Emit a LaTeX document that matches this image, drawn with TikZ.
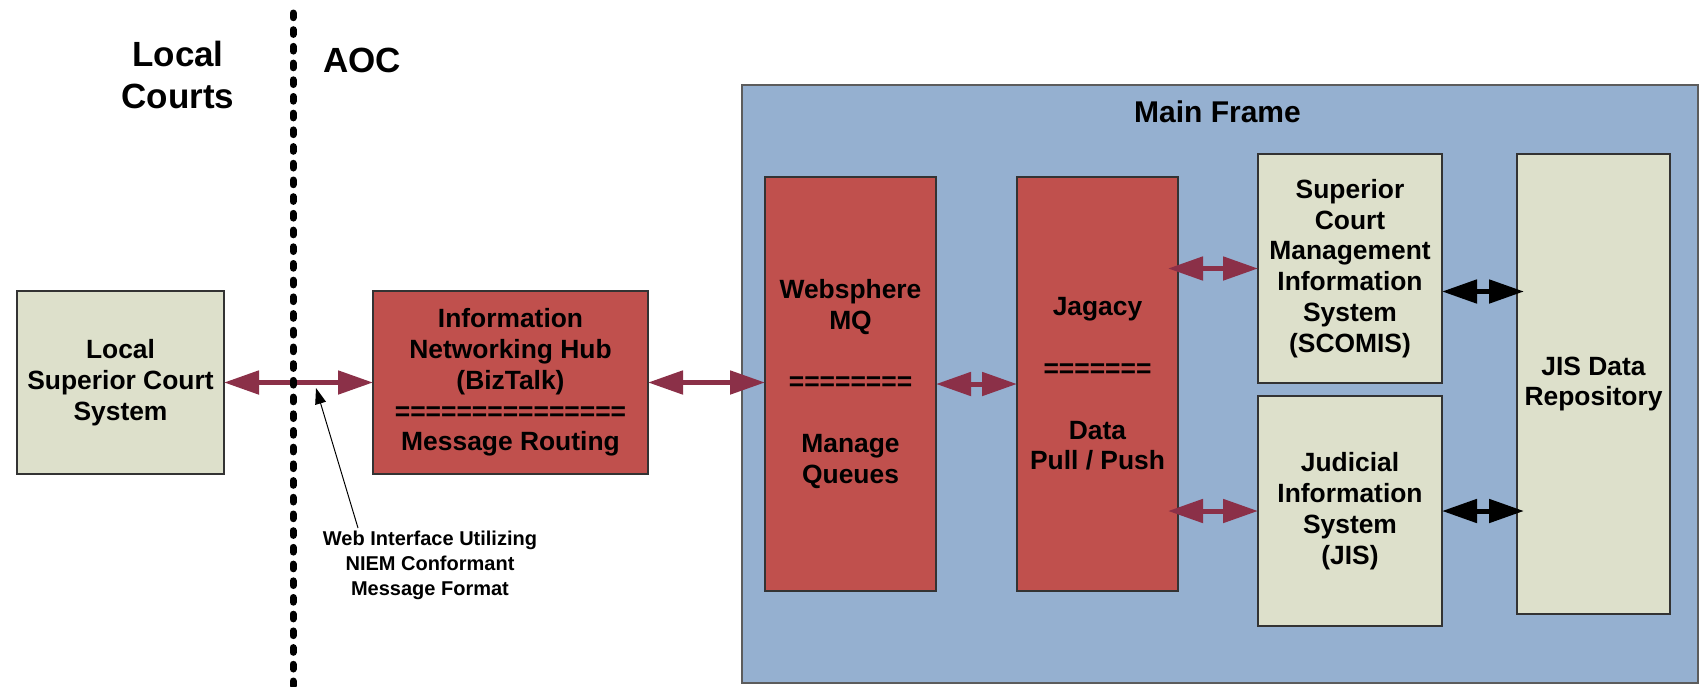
\documentclass[tikz,border=0pt]{standalone}
\usepackage{fontspec}
\setmainfont{Liberation Sans}
\usetikzlibrary{arrows.meta}
\definecolor{boxred}{HTML}{C0504D}
\definecolor{boxgreen}{HTML}{DDE0CB}
\definecolor{frameblue}{HTML}{95B0D0}
\definecolor{arrowred}{HTML}{8B3048}
\definecolor{edgegray}{HTML}{333333}
\begin{document}
\begin{tikzpicture}[x=0.5pt,y=-0.5pt,
  basebox/.style={draw=edgegray, line width=0.7pt, outer sep=0pt, inner sep=0pt, align=center,
    font=\fontsize{13.2}{15.4}\selectfont\bfseries},
  redbox/.style={basebox, fill=boxred},
  greenbox/.style={basebox, fill=boxgreen},
  framebox/.style={draw=edgegray!80, line width=0.7pt, fill=frameblue, outer sep=0pt, inner sep=0pt},
  fatarrow/.style={draw=arrowred, line width=2.5pt,
    {Triangle[length=17.5pt,width=11.5pt]}-{Triangle[length=17.5pt,width=11.5pt]}},
  blackarrow/.style={fatarrow, draw=black},
  hdr/.style={align=center, font=\fontsize{17.5}{21}\selectfont\bfseries, inner sep=0pt},
  titletext/.style={font=\fontsize{15}{18}\selectfont\bfseries, inner sep=0pt},
  notetext/.style={align=center, font=\fontsize{10}{12.5}\selectfont\bfseries, inner sep=0pt},
  notearrow/.style={draw=black, line width=0.5pt, -{Triangle[length=8pt,width=5.5pt]}},
  dotline/.style={draw=black, line width=3.5pt, line cap=round, dash pattern=on 2.35pt off 6pt}
]
\useasboundingbox (0,0) rectangle (1700,686);

% main frame
\node[framebox, minimum width=478pt, minimum height=299pt] (main) at (1220,384) {};
\node[titletext] (maintitle) at (1217.5,112) {Main Frame};

% headers
\node[hdr] (lc) at (178,75) {Local\\Courts};
\node[hdr] (aoc) at (362,60) {AOC};

% boxes
\node[greenbox, minimum width=103.5pt, minimum height=91.5pt] (local) at (120.5,382.5)
  {Local\\Superior Court\\System};
\node[redbox, minimum width=137.5pt, minimum height=91.5pt] (hub) at (510.5,382.5)
  {Information\\Networking Hub\\(BizTalk)\\===============\\Message Routing};
\node[redbox, minimum width=85.5pt, minimum height=207pt] (ws) at (850.5,384)
  {Websphere\\MQ\\\mbox{}\\========\\\mbox{}\\Manage\\Queues};
\node[redbox, minimum width=80.5pt, minimum height=207pt] (jag) at (1097.5,384)
  {Jagacy\\\mbox{}\\=======\\\mbox{}\\Data\\Pull / Push};
\node[greenbox, minimum width=92pt, minimum height=114.5pt] (scomis) at (1350,268.5)
  {Superior\\Court\\Management\\Information\\System\\(SCOMIS)};
\node[greenbox, minimum width=92pt, minimum height=115pt] (jis) at (1350,511)
  {Judicial\\Information\\System\\(JIS)};
\node[greenbox, minimum width=76.5pt, minimum height=230pt] (repo) at (1593.5,384)
  {JIS Data\\Repository};

% connectors
\draw[fatarrow] (local.east) -- (hub.west);
\draw[fatarrow] (hub.east) -- (hub.east -| ws.west);
\draw[fatarrow] (ws.east) -- (jag.west);
\draw[fatarrow] ([xshift=-5pt]jag.east |- scomis.west) -- (scomis.west);
\draw[fatarrow] ([xshift=-5pt]jag.east |- jis.west) -- (jis.west);
\coordinate (s1) at ([yshift=-11.5pt]scomis.east);
\draw[blackarrow] (s1) -- ([xshift=3.5pt]repo.west |- s1);
\draw[blackarrow] (jis.east) -- ([xshift=3.5pt]repo.west |- jis.east);

% boundary line
\coordinate (dtop) at (293,13);
\coordinate (dbot) at (293,690);
\draw[dotline] (dtop) -- (dbot);

% annotation
\node[notetext] (note) at (430,565) {Web Interface Utilizing\\NIEM Conformant\\Message Format};
\coordinate (noteend) at (358,528);
\coordinate (notetip) at (316,388);
\draw[notearrow] (noteend) -- (notetip);
\end{tikzpicture}
\end{document}
